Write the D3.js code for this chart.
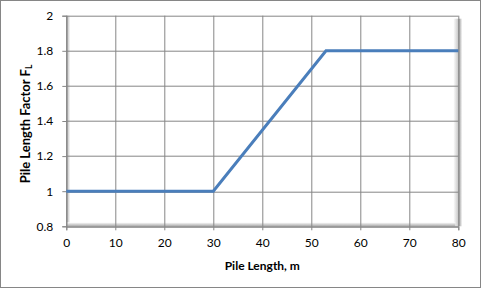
<!DOCTYPE html>
<html lang="en">
<head>
<meta charset="UTF-8">
<title>Pile Length Factor</title>
<style>
  body { margin: 0; background: #fff; }
  svg text { font-family: Lato, "Open Sans", sans-serif; fill: #000; }
  .tick text { font-size: 12px; }
  .axis-title { font-size: 12px; font-weight: bold; }
</style>
</head>
<body>
<svg id="chart" width="481" height="289"></svg>
<script src="https://cdn.jsdelivr.net/npm/d3@7"></script>
<script>
// pile length (m) vs length factor F_L
var lengths = [0, 30, 53, 80];
var factors = [1, 1, 1.8, 1.8];
var xTicks = [0, 10, 20, 30, 40, 50, 60, 70, 80];
var yTicks = [0.8, 1, 1.2, 1.4, 1.6, 1.8, 2];

var margin = {top: 15.7, right: 22.7, bottom: 62.7, left: 66.3},
    W = 481, H = 289,
    width = W - margin.left - margin.right,
    height = H - margin.top - margin.bottom;

var svg = d3.select("#chart");

// outer chart border
svg.append("rect")
   .attr("x", 0.5).attr("y", 0.5)
   .attr("width", W - 1).attr("height", H - 2)
   .attr("fill", "#fff")
   .attr("stroke", "#868686");

var defs = svg.append("defs");
function grad(id, x2, y2, stops) {
  var g = defs.append("linearGradient").attr("id", id)
      .attr("x1", 0).attr("y1", 0).attr("x2", x2).attr("y2", y2);
  stops.forEach(function (s) {
    g.append("stop").attr("offset", s[0]).attr("stop-color", s[1]);
  });
}
grad("shRight", 1, 0, [[0, "#fff"], [0.55, "#c8c8c8"], [0.62, "#8a8a8a"], [0.7, "#b0b0b0"], [1, "#fff"]]);
grad("shLeft", 1, 0, [[0, "#a8a8a8"], [1, "#fff"]]);
grad("shBottom", 0, 1, [[0, "#fff"], [1, "#a8a8a8"]]);

var x = d3.scaleLinear().domain([0, 80]).range([0, width]);
var y = d3.scaleLinear().domain([0.8, 2]).range([height, 0]);

var g = svg.append("g")
   .attr("transform", "translate(" + margin.left + "," + margin.top + ")");

// plot area bevel / shadow
g.append("rect").attr("x", width - 5).attr("y", 3).attr("width", 9).attr("height", height - 3)
   .attr("fill", "url(#shRight)");
g.append("rect").attr("x", 0).attr("y", 0).attr("width", 4).attr("height", height)
   .attr("fill", "url(#shLeft)");
g.append("rect").attr("x", 0).attr("y", height - 4).attr("width", width - 3).attr("height", 4)
   .attr("fill", "url(#shBottom)");

// gridlines
g.append("g").selectAll("line").data(xTicks).enter().append("line")
   .attr("x1", function (d) { return Math.round(x(d)) + 0.5; })
   .attr("x2", function (d) { return Math.round(x(d)) + 0.5; })
   .attr("y1", 0).attr("y2", height)
   .attr("stroke", "#868686");
g.append("g").selectAll("line").data(yTicks).enter().append("line")
   .attr("y1", function (d) { return Math.round(y(d)) + 0.5; })
   .attr("y2", function (d) { return Math.round(y(d)) + 0.5; })
   .attr("x1", 0).attr("x2", width)
   .attr("stroke", "#868686");

// axes
var xAxis = g.append("g")
   .attr("transform", "translate(0," + height + ")")
   .call(d3.axisBottom(x).tickValues(xTicks).tickSize(4).tickPadding(8));
var yAxis = g.append("g")
   .call(d3.axisLeft(y).tickValues(yTicks).tickSize(4).tickPadding(9)
         .tickFormat(function (d) { return d3.format("")(+d.toFixed(1)); }));
[xAxis, yAxis].forEach(function (a) {
  a.select(".domain").attr("stroke", "#868686");
  a.selectAll(".tick line").attr("stroke", "#868686");
});

// data line
var pts = lengths.map(function (d, i) { return [d, factors[i]]; });
g.append("path")
   .datum(pts)
   .attr("fill", "none")
   .attr("stroke", "#4a7ebb")
   .attr("stroke-width", 3)
   .attr("d", d3.line().x(function (d) { return x(d[0]); }).y(function (d) { return y(d[1]); }));

// axis titles
svg.append("text")
   .attr("class", "axis-title")
   .attr("x", margin.left + width / 2)
   .attr("y", 270)
   .attr("text-anchor", "middle")
   .text("Pile Length, m");

var yt = svg.append("text")
   .attr("class", "axis-title")
   .attr("text-anchor", "middle")
   .style("font-size", "13px")
   .attr("transform", "translate(30,124) rotate(-90)");
yt.append("tspan").text("Pile Length Factor F");
yt.append("tspan").attr("font-size", "8.5px").attr("dy", 2).text("L");
</script>
</body>
</html>
